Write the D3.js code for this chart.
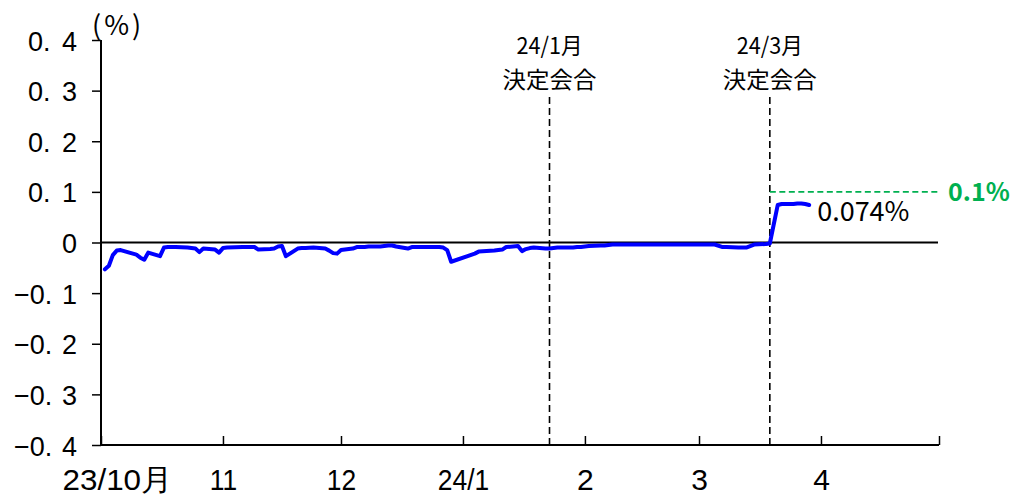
<!DOCTYPE html>
<html><head><meta charset="utf-8">
<script src="https://cdn.jsdelivr.net/npm/d3@7"></script>
<style>
html,body{margin:0;padding:0;background:#fff;}
svg{display:block;font-family:"Noto Sans CJK JP","Noto Sans",sans-serif;}
</style></head>
<body>
<svg id="chart" width="1011" height="495"></svg>
<script>
// ---- data ----
const dates = [
 "2023-10-02","2023-10-03","2023-10-04","2023-10-05","2023-10-06","2023-10-10","2023-10-11","2023-10-12","2023-10-13",
 "2023-10-16","2023-10-17","2023-10-18","2023-10-19","2023-10-20","2023-10-23","2023-10-24","2023-10-25","2023-10-26",
 "2023-10-27","2023-10-30","2023-10-31",
 "2023-11-01","2023-11-02","2023-11-06","2023-11-07","2023-11-08","2023-11-09","2023-11-10","2023-11-13","2023-11-14",
 "2023-11-15","2023-11-16","2023-11-17","2023-11-20","2023-11-21","2023-11-22","2023-11-24","2023-11-27","2023-11-28",
 "2023-11-29","2023-11-30",
 "2023-12-01","2023-12-04","2023-12-05","2023-12-06","2023-12-07","2023-12-08","2023-12-11","2023-12-12","2023-12-13",
 "2023-12-14","2023-12-15","2023-12-18","2023-12-19","2023-12-20","2023-12-21","2023-12-22","2023-12-25","2023-12-26",
 "2023-12-27","2023-12-28","2023-12-29",
 "2024-01-04","2024-01-05","2024-01-09","2024-01-10","2024-01-11","2024-01-12","2024-01-15","2024-01-16","2024-01-17",
 "2024-01-18","2024-01-19","2024-01-22","2024-01-23","2024-01-24","2024-01-25","2024-01-26","2024-01-29","2024-01-30",
 "2024-01-31",
 "2024-02-01","2024-02-02","2024-02-05","2024-02-06","2024-02-07","2024-02-08","2024-02-09","2024-02-13","2024-02-20",
 "2024-02-27",
 "2024-03-01","2024-03-04","2024-03-05","2024-03-07","2024-03-08","2024-03-11","2024-03-12","2024-03-13","2024-03-14",
 "2024-03-15","2024-03-18","2024-03-19","2024-03-21","2024-03-22","2024-03-25","2024-03-26","2024-03-27","2024-03-28",
 "2024-03-29"
];
const rates = [
 -0.053,-0.046,-0.025,-0.016,-0.015,-0.024,-0.030,-0.034,-0.020,
 -0.027,-0.010,-0.009,-0.009,-0.009,-0.010,-0.011,-0.012,-0.019,
 -0.012,-0.014,-0.020,
 -0.011,-0.010,-0.009,-0.009,-0.009,-0.009,-0.014,-0.013,-0.012,
 -0.008,-0.007,-0.027,-0.012,-0.011,-0.011,-0.010,-0.012,-0.016,
 -0.021,-0.022,
 -0.015,-0.012,-0.009,-0.009,-0.009,-0.008,-0.008,-0.007,-0.006,
 -0.006,-0.008,-0.012,-0.009,-0.009,-0.009,-0.009,-0.009,-0.009,
 -0.010,-0.015,-0.038,
 -0.022,-0.018,-0.016,-0.015,-0.014,-0.009,-0.007,-0.017,-0.013,
 -0.011,-0.010,-0.012,-0.012,-0.011,-0.010,-0.010,-0.010,-0.009,
 -0.009,
 -0.008,-0.007,-0.006,-0.006,-0.005,-0.004,-0.004,-0.004,-0.004,
 -0.004,
 -0.004,-0.004,-0.004,-0.009,-0.009,-0.010,-0.010,-0.010,-0.007,
 -0.004,-0.003,-0.002,0.074,0.076,0.076,0.077,0.077,0.076,
 0.074
];
const yTicks = [-0.4,-0.3,-0.2,-0.1,0,0.1,0.2,0.3,0.4];
const monthTicks = ["2023-10-01","2023-11-01","2023-12-01","2024-01-01","2024-02-01","2024-03-01","2024-04-01","2024-05-01"];
const monthLabels = ["23/10月","11","12","24/1","2","3","4",""];
const meetingDates = ["2024-01-23","2024-03-19"];
const meetingLine1 = ["24/1月","24/3月"];
const meetingLine2 = ["決定会合","決定会合"];
const refLevel = 0.1;
const refLabel = "0.1%";
const lastLabel = "0.074%";
const unitLabel = "(%)";

// ---- chart ----
const parse = d3.timeParse("%Y-%m-%d");
const svg = d3.select("#chart");
const x = d3.scaleTime().domain([parse("2023-10-01"), parse("2024-05-01")]).range([101, 939]);
const y = d3.scaleLinear().domain([-0.4, 0.4]).range([445, 40]);

// y axis
const yAxis = svg.append("g").attr("transform","translate(101,0)")
  .call(d3.axisLeft(y).tickValues(yTicks).tickSize(9).tickPadding(14).tickFormat(() => ""));
yAxis.select(".domain").attr("stroke","#000").attr("stroke-width",2).attr("d","M0,40V445");
yAxis.selectAll(".tick line").attr("stroke","#000").attr("stroke-width",1.5);
yAxis.selectAll(".tick text").attr("font-size",27).attr("fill","#000").attr("dy",null).attr("y",10)
  .attr("x",-24)
  .each(function(d){
    const t = d3.select(this);
    if (d === 0) { t.text("0"); return; }
    const s = d3.format(".1f")(d);
    const cut = s.indexOf(".") + 1;
    t.append("tspan").text(s.slice(0, cut));
    const tail = t.append("tspan").text(s.slice(cut));
    const len = this.getComputedTextLength();
    const target = d < 0 ? 63 : 49;
    tail.attr("dx", Math.max(0, target - len));
  });

// x axis
const xAxis = svg.append("g").attr("transform","translate(0,445)")
  .call(d3.axisBottom(x).tickValues(monthTicks.map(parse)).tickSize(-9).tickPadding(0)
        .tickFormat((d,i) => monthLabels[i]));
xAxis.select(".domain").attr("stroke","#000").attr("stroke-width",2).attr("d","M101,0H939");
xAxis.selectAll(".tick line").attr("stroke","#000").attr("stroke-width",1.5);
xAxis.selectAll(".tick text").attr("font-size",30).attr("fill","#000").attr("dy",null).attr("y",45)
  .each(function(d,i){
    const t = d3.select(this);
    if (i === 0) { t.attr("x",16).attr("textLength",110).attr("lengthAdjust","spacingAndGlyphs"); }
    else if (this.textContent.length > 1) {
      const l = this.getComputedTextLength();
      t.attr("textLength", l*0.88).attr("lengthAdjust","spacingAndGlyphs");
    }
  });

// zero line
svg.append("line").attr("x1",101).attr("x2",938).attr("y1",y(0)).attr("y2",y(0))
  .attr("stroke","#000").attr("stroke-width",2);

// meeting dashed lines + labels
meetingDates.forEach((ds,i) => {
  const xm = x(parse(ds));
  svg.append("line").attr("x1",xm).attr("x2",xm).attr("y1",97).attr("y2",445)
    .attr("stroke","#000").attr("stroke-width",1.6).attr("stroke-dasharray","7,4");
  svg.append("text").attr("x",xm).attr("y",54).attr("text-anchor","middle")
    .attr("font-size",23).attr("fill","#000").text(meetingLine1[i])
    .attr("textLength",66).attr("lengthAdjust","spacingAndGlyphs");
  svg.append("text").attr("x",xm).attr("y",87.5).attr("text-anchor","middle")
    .attr("font-size",23).attr("fill","#000").text(meetingLine2[i])
    .attr("textLength",94).attr("lengthAdjust","spacingAndGlyphs");
});

// 0.1% reference
const xRef = x(parse(meetingDates[1]));
svg.append("line").attr("x1",xRef).attr("x2",940).attr("y1",y(refLevel)).attr("y2",y(refLevel))
  .attr("stroke","#00b050").attr("stroke-width",1.8).attr("stroke-dasharray","6,3.5");
svg.append("text").attr("x",948).attr("y",201).attr("font-size",25).attr("font-weight","bold")
  .attr("fill","#00b050").text(refLabel);

// series line
const pts = dates.map((d,i) => [parse(d), rates[i]]);
svg.append("path").datum(pts)
  .attr("fill","none").attr("stroke","#0000ff").attr("stroke-width",4)
  .attr("stroke-linejoin","round").attr("stroke-linecap","round")
  .attr("d", d3.line().x(d => x(d[0])).y(d => y(d[1])));

// last value label
const last = pts[pts.length-1];
svg.append("text").attr("x", x(last[0]) + 8).attr("y",221).attr("font-size",27).attr("fill","#000")
  .text(lastLabel);

// unit label
svg.append("text").attr("x",92).attr("y",35).attr("font-size",27)
  .attr("fill","#000").attr("letter-spacing",3).text(unitLabel);
</script>
</body></html>
